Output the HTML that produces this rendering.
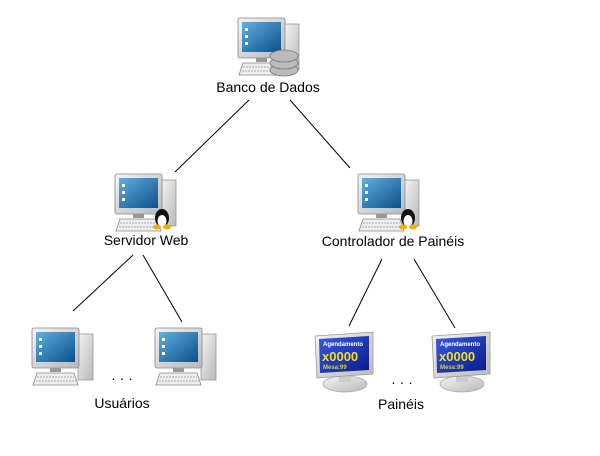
<!DOCTYPE html>
<html><head><meta charset="utf-8"><style>
html,body{margin:0;padding:0;background:#fff;}
svg{display:block;}
text{font-family:"Liberation Sans",sans-serif;font-size:14px;fill:#000;}
</style></head><body>
<svg width="600" height="456" viewBox="0 0 600 456" xmlns="http://www.w3.org/2000/svg">
<defs>
<linearGradient id="scr" x1="0" y1="0" x2="1" y2="1"><stop offset="0" stop-color="#5fb0e0"/><stop offset="1" stop-color="#0c4f8a"/></linearGradient>
<linearGradient id="gry" x1="0" y1="0" x2="1" y2="1"><stop offset="0" stop-color="#f4f4f4"/><stop offset="1" stop-color="#b8b8b8"/></linearGradient>
<linearGradient id="pan" x1="0" y1="0" x2="1" y2="1"><stop offset="0" stop-color="#3a5ae0"/><stop offset="1" stop-color="#0a1a8a"/></linearGradient>
<g id="pc">
<rect x="46" y="6" width="15" height="46" fill="url(#gry)" stroke="#999" stroke-width="0.8"/>
<rect x="0" y="0" width="47" height="40" rx="2" fill="url(#gry)" stroke="#888" stroke-width="0.8"/>
<rect x="4" y="4" width="39" height="30" fill="url(#scr)"/>
<rect x="7" y="10" width="3" height="3" fill="#fff"/><rect x="7" y="17" width="3" height="3" fill="#fff"/><rect x="7" y="24" width="3" height="3" fill="#fff"/>
<rect x="18" y="40" width="11" height="4" fill="#999"/>
<polygon points="5,45 42,45 46,57 1,57" fill="#eee" stroke="#888" stroke-width="0.8"/>
<line x1="5" y1="49" x2="42" y2="49" stroke="#aaa" stroke-dasharray="2 1"/>
<line x1="4" y1="53" x2="44" y2="53" stroke="#aaa" stroke-dasharray="2 1"/>
</g>
<g id="tux">
<ellipse cx="0" cy="0" rx="7" ry="9" fill="#111"/>
<ellipse cx="0" cy="3" rx="4.5" ry="6" fill="#fff"/>
<ellipse cx="-5" cy="9" rx="4" ry="2.5" fill="#f0b000"/>
<ellipse cx="5" cy="9" rx="4" ry="2.5" fill="#f0b000"/>
</g>
<g id="panel">
<ellipse cx="30" cy="52" rx="22" ry="8" fill="url(#gry)" stroke="#aaa" stroke-width="0.8"/>
<rect x="24" y="40" width="12" height="10" fill="#ccc"/>
<polygon points="0,4 58,0 58,42 2,46" fill="url(#gry)" stroke="#999" stroke-width="0.8"/>
<polygon points="4,7 54,4 54,38 5,41" fill="url(#pan)"/>
<text x="8" y="14" style="font-size:6px;font-weight:bold;fill:#fff">Agendamento</text>
<text x="7" y="29" style="font-size:13px;font-weight:bold;fill:#f0e020">x0000</text>
<text x="8" y="37" style="font-size:6px;font-weight:bold;fill:#e0d020">Mesa:99</text>
</g>
</defs>
<g stroke="#000" stroke-width="1">
<line x1="249" y1="100" x2="175" y2="172"/>
<line x1="290" y1="100" x2="350" y2="168"/>
<line x1="133" y1="255" x2="73" y2="311"/>
<line x1="143" y1="255" x2="182" y2="322"/>
<line x1="382" y1="259" x2="349" y2="326"/>
<line x1="414" y1="259" x2="455" y2="328"/>
</g>
<use href="#pc" x="238" y="18"/>
<g fill="#bbb" stroke="#777" stroke-width="0.8">
<ellipse cx="284" cy="70" rx="14" ry="6"/><ellipse cx="284" cy="63" rx="14" ry="6"/><ellipse cx="284" cy="56" rx="14" ry="6"/>
</g>
<text x="268" y="92" text-anchor="middle">Banco de Dados</text>
<use href="#pc" x="115" y="174"/>
<use href="#tux" x="162" y="218"/>
<text x="146" y="245" text-anchor="middle">Servidor Web</text>
<use href="#pc" x="358" y="174"/>
<use href="#tux" x="408" y="218"/>
<text x="393" y="246" text-anchor="middle">Controlador de Painéis</text>
<use href="#pc" x="32" y="328"/>
<use href="#pc" x="155" y="328"/>
<text x="122" y="383" text-anchor="middle">· · ·</text>
<text x="122" y="408" text-anchor="middle">Usuários</text>
<use href="#panel" x="315" y="332"/>
<use href="#panel" x="432" y="332"/>
<text x="402" y="387" text-anchor="middle">· · ·</text>
<text x="401" y="409" text-anchor="middle">Painéis</text>
</svg>
</body></html>
